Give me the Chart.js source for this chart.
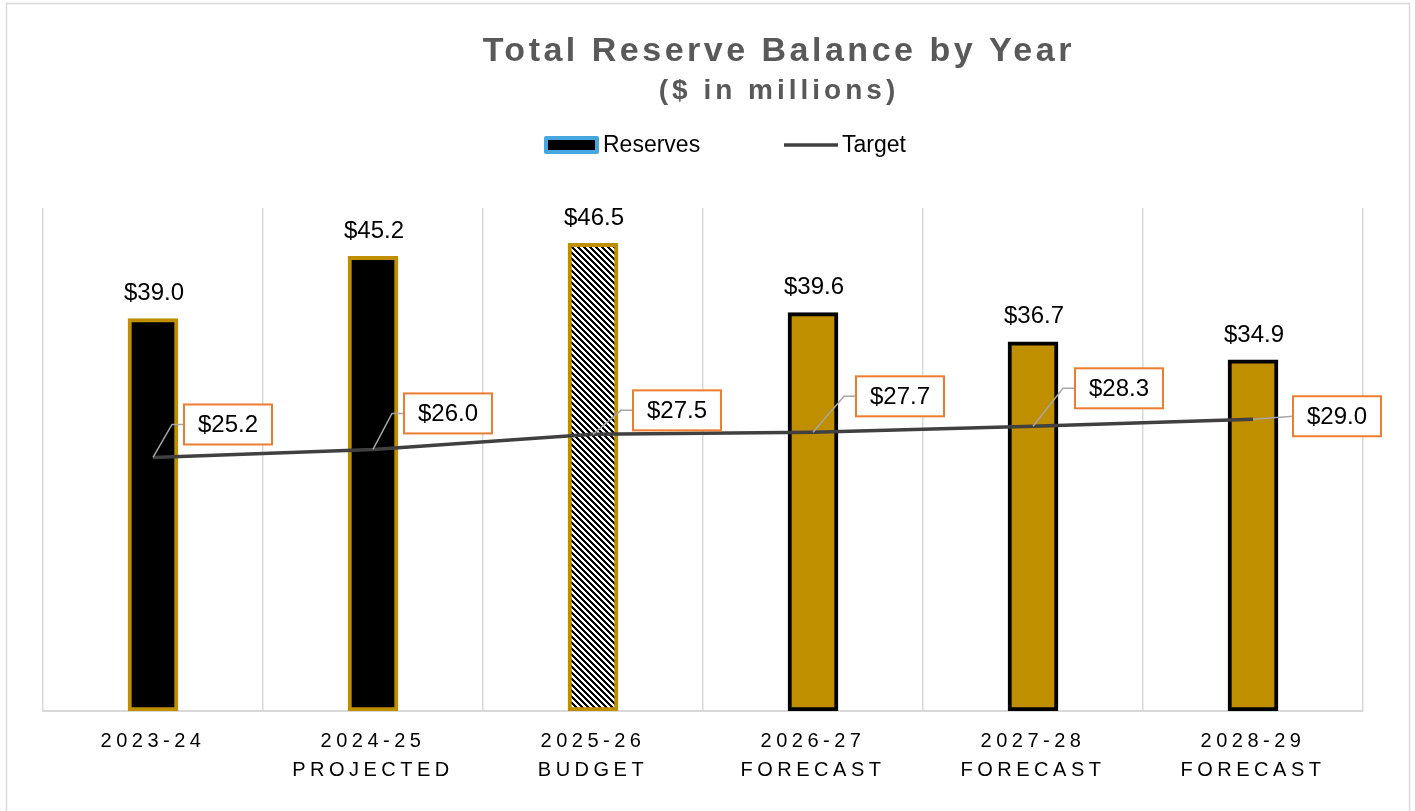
<!DOCTYPE html>
<html>
<head>
<meta charset="utf-8">
<title>Total Reserve Balance by Year</title>
<script src="https://cdn.jsdelivr.net/npm/chart.js@4.4.1/dist/chart.umd.min.js"></script>
<style>
	html, body { margin: 0; padding: 0; background: #fff; }
	#wrap { width: 1415px; height: 811px; position: relative; }
</style>
</head>
<body>
<div id="wrap"><canvas id="reserveChart"></canvas></div>
<script>
// 차트 데이터
const categories = [
	['2023-24'],
	['2024-25', 'PROJECTED'],
	['2025-26', 'BUDGET'],
	['2026-27', 'FORECAST'],
	['2027-28', 'FORECAST'],
	['2028-29', 'FORECAST']
];
const reserves = [39.0, 45.2, 46.5, 39.6, 36.7, 34.9];
const targets  = [25.2, 26.0, 27.5, 27.7, 28.3, 29.0];
const yMin = 0;
const yMax = 50;

const chartTitle    = 'Total Reserve Balance by Year';
const chartSubtitle = '($ in millions)';

// 스타일
const FONT = "'Liberation Sans', Arial, sans-serif";
const GOLD = '#BF8F00';
const LINE = '#404040';

// 목표 라벨 박스 위치 (점 기준 px)
const targetLabelOffsets = [[75, -33], [75, -36], [84, -24], [87, -36], [86, -38], [84, -3]];

// 빗금 패턴
let _hatch = (function() {
	let n = 6;
	let c = document.createElement('canvas');
	c.width = n; c.height = n;
	let g = c.getContext('2d');
	g.fillStyle = '#fff';
	g.fillRect(0, 0, n, n);
	g.fillStyle = '#000';
	for (let y = 0; y < n; y++)
		for (let x = 0; x < n; x++)
			if (((x - y + n) % n) < 3) g.fillRect(x, y, 1, 1);
	return g.createPattern(c, 'repeat');
})();

const barFill   = ['#000', '#000', _hatch, GOLD, GOLD, GOLD];
const barBorder = [GOLD, GOLD, GOLD, '#000', '#000', '#000'];

// 제목, 범례, 데이터 라벨 플러그인
const excelLook = {
	id: 'excelLook',
	beforeDraw(chart) {
		let ctx = chart.ctx;
		ctx.save();
		ctx.fillStyle = '#fff';
		ctx.fillRect(0, 0, chart.width, chart.height);
		ctx.strokeStyle = '#D9D9D9';
		ctx.lineWidth = 1.5;
		ctx.strokeRect(6.5, 3.5, 1403, chart.height + 10);
		ctx.restore();
		// x축 라벨 자간
		ctx.letterSpacing = '4.5px';
	},
	beforeDatasetsDraw(chart) {
		chart.ctx.letterSpacing = '0px';
	},
	afterDatasetsDraw(chart) {
		let ctx = chart.ctx;
		ctx.save();
		ctx.letterSpacing = '0px';
		ctx.font = '24px ' + FONT;
		ctx.textAlign = 'center';
		ctx.textBaseline = 'middle';

		// 막대 값
		ctx.fillStyle = '#000';
		chart.getDatasetMeta(0).data.forEach(function(bar, i) {
			ctx.fillText('$' + reserves[i].toFixed(1), bar.x + 1, bar.y - 25);
		});

		// 목표 값 박스
		chart.getDatasetMeta(1).data.forEach(function(pt, i) {
			let off = targetLabelOffsets[i];
			let cx = pt.x + off[0], cy = pt.y + off[1];
			let bx = cx - 44, by = cy - 20;

			ctx.strokeStyle = '#A6A6A6';
			ctx.lineWidth = 1.5;
			ctx.beginPath();
			ctx.moveTo(pt.x, pt.y);
			if (Math.abs(off[1]) > 8)
				ctx.lineTo(bx - 12, cy);
			ctx.lineTo(bx, cy);
			ctx.stroke();

			ctx.fillStyle = '#fff';
			ctx.fillRect(bx, by, 88, 40);
			ctx.strokeStyle = '#ED7D31';
			ctx.lineWidth = 2;
			ctx.strokeRect(bx, by, 88, 40);

			ctx.fillStyle = '#000';
			ctx.fillText('$' + targets[i].toFixed(1), cx, cy + 1);
		});
		ctx.restore();
	},
	afterDraw(chart) {
		let ctx = chart.ctx;
		let tx = 777;
		ctx.save();
		ctx.textAlign = 'center';
		ctx.textBaseline = 'alphabetic';
		ctx.fillStyle = '#595959';

		ctx.font = 'bold 34px ' + FONT;
		ctx.letterSpacing = '3.5px';
		ctx.fillText(chartTitle, tx + 1.75, 61);

		ctx.font = 'bold 28px ' + FONT;
		ctx.letterSpacing = '4px';
		ctx.fillText(chartSubtitle, tx + 2, 99);

		// 범례
		let ds = chart.data.datasets;
		ctx.letterSpacing = '0px';
		ctx.textAlign = 'left';
		ctx.textBaseline = 'middle';
		ctx.font = '23px ' + FONT;

		ctx.fillStyle = '#45A7DD';
		ctx.beginPath();
		ctx.roundRect(544, 136, 55, 18, 2);
		ctx.fill();
		ctx.fillStyle = '#000';
		ctx.fillRect(548, 140, 47, 10);
		ctx.fillText(ds[0].label, 603, 146);

		ctx.strokeStyle = LINE;
		ctx.lineWidth = 3.5;
		ctx.beginPath();
		ctx.moveTo(784, 145);
		ctx.lineTo(838, 145);
		ctx.stroke();
		ctx.fillText(ds[1].label, 842, 146);
		ctx.restore();
	}
};

new Chart(document.getElementById('reserveChart'), {
	type: 'bar',
	data: {
		labels: categories,
		datasets: [{
			type: 'bar',
			label: 'Reserves',
			data: reserves,
			backgroundColor: barFill,
			borderColor: barBorder,
			borderWidth: 4,
			borderSkipped: false,
			barThickness: 50,
			order: 2
		}, {
			type: 'line',
			label: 'Target',
			data: targets,
			borderColor: LINE,
			borderWidth: 3.5,
			pointRadius: 0,
			tension: 0,
			order: 1
		}]
	},
	options: {
		responsive: true,
		maintainAspectRatio: false,
		animation: false,
		layout: { padding: { top: 208, left: 43, right: 52, bottom: 10 } },
		plugins: {
			legend: { display: false },
			title: { display: false },
			tooltip: { enabled: false }
		},
		scales: {
			x: {
				grid: { color: '#D9D9D9', lineWidth: 1.5, drawTicks: false, offset: true },
				border: { color: '#D9D9D9', width: 2 },
				ticks: {
					color: '#000',
					font: { family: FONT, size: 20, lineHeight: 1.45 },
					padding: 16,
					maxRotation: 0,
					autoSkip: false
				}
			},
			y: { display: false, min: yMin, max: yMax }
		}
	},
	plugins: [excelLook]
});
</script>
</body>
</html>
